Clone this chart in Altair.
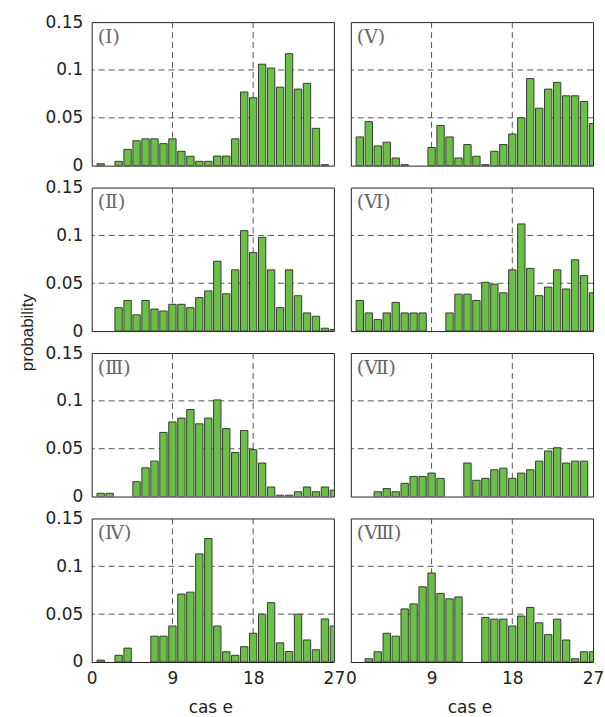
import altair as alt
import pandas as pd

cases = list(range(1, 28))

# probability per case (0 = no bar)
p_I = [0.002, 0, 0.0045, 0.017, 0.026, 0.028, 0.028, 0.023, 0.028, 0.015, 0.0098, 0.0045, 0.0045,
       0.010, 0.010, 0.028, 0.077, 0.071, 0.106, 0.102, 0.082, 0.117, 0.080, 0.086, 0.039, 0.001, 0]
p_II = [0, 0, 0.0245, 0.032, 0.017, 0.032, 0.023, 0.021, 0.028, 0.028, 0.0245, 0.035, 0.042,
        0.073, 0.039, 0.064, 0.105, 0.082, 0.098, 0.064, 0.0245, 0.064, 0.037, 0.019, 0.0155, 0.003, 0.0017]
p_III = [0.0034, 0.0034, 0, 0, 0.0155, 0.030, 0.037, 0.067, 0.078, 0.082, 0.091, 0.076, 0.082,
         0.101, 0.071, 0.046, 0.069, 0.049, 0.035, 0.010, 0.0014, 0.0014, 0.005, 0.010, 0.005, 0.010, 0.0066]
p_IV = [0.002, 0, 0.007, 0.0145, 0, 0, 0.027, 0.027, 0.0376, 0.071, 0.073, 0.113, 0.129,
        0.0376, 0.0107, 0.007, 0.016, 0.030, 0.050, 0.062, 0.020, 0.011, 0.050, 0.023, 0.0128, 0.045, 0.0376]
p_V = [0.030, 0.046, 0.0206, 0.0245, 0.008, 0.001, 0, 0, 0.019, 0.042, 0.030, 0.008, 0.022,
       0.0098, 0.001, 0.015, 0.022, 0.033, 0.050, 0.091, 0.060, 0.080, 0.087, 0.073, 0.073, 0.067, 0.044]
p_VI = [0.032, 0.019, 0.012, 0.019, 0.030, 0.019, 0.019, 0.019, 0, 0, 0.019, 0.0386, 0.0386,
        0.032, 0.051, 0.049, 0.040, 0.064, 0.112, 0.0655, 0.037, 0.046, 0.064, 0.044, 0.0745, 0.058, 0.040]
p_VII = [0, 0, 0.005, 0.0083, 0.005, 0.0138, 0.021, 0.021, 0.0245, 0.019, 0, 0, 0.035,
         0.017, 0.019, 0.028, 0.0297, 0.019, 0.0245, 0.028, 0.037, 0.0476, 0.051, 0.035, 0.037, 0.037, 0]
p_VIII = [0, 0.0034, 0.0107, 0.030, 0.027, 0.0555, 0.0607, 0.0786, 0.093, 0.0717, 0.066, 0.068, 0,
          0, 0.0466, 0.0448, 0.0448, 0.0376, 0.048, 0.057, 0.041, 0.0286, 0.0448, 0.023, 0.0034, 0.0107, 0.0107]

panel_labels = ["(Ⅰ)", "(Ⅴ)", "(Ⅱ)", "(Ⅵ)", "(Ⅲ)", "(Ⅶ)", "(Ⅳ)", "(Ⅷ)"]
panel_values = [p_I, p_V, p_II, p_VI, p_III, p_VII, p_IV, p_VIII]

x_ticks = [0, 9, 18, 27]
y_ticks = [0, 0.05, 0.1, 0.15]
grid_x = [9, 18]
grid_y = [0.05, 0.1]

W, H = 243, 144
HALF = 0.41
GREEN = "#6abf45"
EDGE = "#3a3a3a"
GRID = "#555555"
TXT = "#222222"

xscale = alt.Scale(domain=[0, 27], nice=False, zero=False)
yscale = alt.Scale(domain=[0, 0.15], nice=False)


def make_x_axis(bottom):
    kw = dict(values=x_ticks, grid=False, domain=False, ticks=False,
              labels=bottom, labelFont="DejaVu Sans", labelFontSize=17,
              labelColor=TXT, labelPadding=9, labelFlush=False,
              labelOverlap=False, labelBound=False)
    if bottom:
        kw.update(title="cas e", titleFont="DejaVu Sans", titleFontSize=17,
                  titleFontWeight="normal", titleColor=TXT,
                  titleBaseline="alphabetic", titleY=51, titleX=119)
    else:
        kw.update(title="")
    return alt.Axis(**kw)


def make_y_axis(with_title):
    kw = dict(values=y_ticks, labelExpr="'' + datum.value", grid=False, domain=False, ticks=False,
              labelFont="DejaVu Sans", labelFontSize=17, labelColor=TXT,
              labelPadding=9, labelOverlap=False, labelBound=False, labelFlush=False)
    if with_title:
        kw.update(title="probability", titleFont="Liberation Sans", titleFontSize=17,
                  titleFontWeight="normal", titleColor=TXT, titleAngle=270,
                  titleBaseline="middle", titleAlign="center", titleX=-64, titleY=145)
    else:
        kw.update(title="")
    return alt.Axis(**kw)


charts = []
for i, (lab, vals) in enumerate(zip(panel_labels, panel_values)):
    left = i % 2 == 0
    bottom = i >= 6
    xa = make_x_axis(bottom)
    ya = make_y_axis(i == 2) if left else None

    df = pd.DataFrame({"case": cases, "p": vals})
    gx = pd.DataFrame({"gx": grid_x})
    gy = pd.DataFrame({"gy": grid_y})
    tdf = pd.DataFrame({"label": [lab]})

    vrules = alt.Chart(gx).mark_rule(color=GRID, strokeDash=[6, 4], strokeWidth=1).encode(
        x=alt.X("gx:Q", scale=xscale, axis=xa))
    hrules = alt.Chart(gy).mark_rule(color=GRID, strokeDash=[6, 4], strokeWidth=1).encode(
        y=alt.Y("gy:Q", scale=yscale, axis=ya))

    bars = alt.Chart(df).transform_filter("datum.p > 0").transform_calculate(
        x0=f"datum.case - {HALF}", x1=f"datum.case + {HALF}", base="0"
    ).mark_bar(fill=GREEN, stroke=EDGE, strokeWidth=1, clip=True).encode(
        x=alt.X("x0:Q", scale=xscale, axis=xa),
        x2="x1:Q",
        y=alt.Y("p:Q", scale=yscale, axis=ya),
        y2="base:Q",
    )

    text = alt.Chart(tdf).mark_text(align="left", baseline="top", font="DejaVu Serif",
                                    fontSize=19, color="#666").encode(
        x=alt.value(6), y=alt.value(6), text="label:N")

    charts.append(alt.layer(vrules, hrules, bars, text).properties(width=W, height=H))

chart = alt.concat(*charts, columns=2, spacing={"row": 22, "column": 17}, bounds="flush").properties(
    padding={"left": 18, "top": 11, "right": 0, "bottom": 0}
).configure_view(stroke="#222", strokeWidth=1)

chart.save("out.html", embed_options={"renderer": "svg", "actions": False})
